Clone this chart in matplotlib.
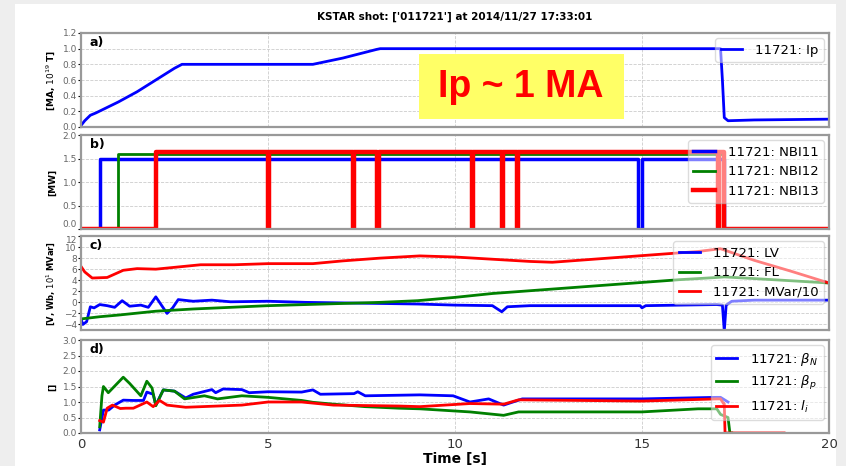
import matplotlib
matplotlib.use('Agg')
import matplotlib.pyplot as plt
from matplotlib.patches import Rectangle

# ---- data ----
shot = '11721'

t_ip = [0.0, 0.1, 0.25, 0.4, 1.0, 1.5, 2.0, 2.5, 2.7, 4.0, 6.2, 7.0, 7.9, 8.0, 12.0, 17.1, 17.15, 17.2, 17.3, 18.0, 20.0]
ip = [0.02, 0.08, 0.15, 0.18, 0.32, 0.45, 0.6, 0.75, 0.8, 0.8, 0.8, 0.88, 0.99, 1.0, 1.0, 1.0, 0.6, 0.12, 0.08, 0.09, 0.1]

t_nbi11 = [0.0, 0.5, 0.5, 14.9, 14.9, 15.0, 15.0, 17.2, 17.2, 20.0]
nbi11 = [0.0, 0.0, 1.5, 1.5, 0.0, 0.0, 1.5, 1.5, 0.0, 0.0]

t_nbi12 = [0.0, 1.0, 1.0, 17.2, 17.2, 20.0]
nbi12 = [0.0, 0.0, 1.6, 1.6, 0.0, 0.0]

t_nbi13 = [0.0, 2.0, 2.0, 5.0, 5.0, 5.02, 5.02, 7.27, 7.27, 7.29, 7.29,
           7.92, 7.92, 7.97, 7.97, 10.45, 10.45, 10.47, 10.47, 11.26, 11.26,
           11.28, 11.28, 11.66, 11.66, 11.68, 11.68, 17.03, 17.03, 17.05,
           17.05, 17.2, 17.2, 20.0]
nbi13 = [0.0, 0.0, 1.63, 1.63, 0.0, 0.0, 1.63, 1.63, 0.0, 0.0, 1.63,
         1.63, 0.0, 0.0, 1.63, 1.63, 0.0, 0.0, 1.63, 1.63, 0.0,
         0.0, 1.63, 1.63, 0.0, 0.0, 1.63, 1.63, 0.0, 0.0,
         1.63, 1.63, 0.0, 0.0]

t_lv = [0.0, 0.05, 0.15, 0.25, 0.35, 0.5, 0.7, 0.9, 1.1, 1.3, 1.6, 1.8, 2.0, 2.1, 2.3, 2.45, 2.6,
        3.0, 3.5, 4.0, 5.0, 6.0, 7.0, 8.0, 9.0, 10.0, 11.0, 11.25, 11.4, 12.0, 13.0, 14.0,
        14.95, 15.0, 15.1, 16.0, 17.0, 17.15, 17.2, 17.25, 17.4, 18.0, 20.0]
lv = [-3.0, -4.0, -3.5, -0.8, -1.0, -0.4, -0.6, -0.9, 0.3, -0.7, -0.5, -0.9, 1.0, 0.0, -2.0, -1.0, 0.5,
      0.2, 0.4, 0.1, 0.2, 0.0, -0.1, -0.2, -0.3, -0.5, -0.6, -1.7, -0.8, -0.6, -0.6, -0.6,
      -0.6, -1.0, -0.6, -0.5, -0.4, -0.5, -5.2, -0.5, 0.2, 0.4, 0.4]

t_fl = [0, 0.5, 1, 2, 3, 4, 5, 6, 7, 8, 9, 10, 11, 12, 13, 14, 15, 16, 17, 17.2, 18, 19, 20]
fl = [-3.0, -2.6, -2.3, -1.6, -1.2, -0.9, -0.6, -0.4, -0.2, 0.0, 0.3, 0.9, 1.6, 2.1, 2.6, 3.1,
      3.6, 4.1, 4.5, 4.6, 4.3, 3.9, 3.5]

t_mvar = [0.0, 0.1, 0.3, 0.7, 1.13, 1.5, 2.0, 3.2, 4.1, 5.0, 6.2, 7.0, 8.0, 9.06, 10.0, 11.0,
          12.0, 12.6, 13.5, 14.5, 15.5, 16.5, 17.1, 18.0, 19.0, 20.0]
mvar = [6.5, 5.5, 4.4, 4.5, 5.8, 6.1, 6.0, 6.8, 6.8, 7.0, 7.0, 7.5, 8.0, 8.4, 8.2, 7.8,
        7.4, 7.25, 7.7, 8.2, 8.7, 9.2, 9.7, 7.6, 5.6, 3.5]

t_bn = [0.5, 0.6, 0.74, 0.9, 1.13, 1.4, 1.67, 1.76, 1.93, 2.0, 2.2, 2.5, 2.8, 3.0, 3.5, 3.6, 3.8,
        4.3, 4.5, 5.0, 5.9, 6.2, 6.4, 7.3, 7.4, 7.6, 9.06, 9.95, 10.4, 10.9, 11.3, 11.8, 15.0,
        17.0, 17.1, 17.3]
bn = [0.1, 0.74, 0.74, 0.9, 1.06, 1.05, 1.05, 1.32, 1.25, 0.9, 1.39, 1.35, 1.13, 1.25, 1.4, 1.3,
      1.42, 1.4, 1.3, 1.33, 1.32, 1.39, 1.25, 1.27, 1.33, 1.2, 1.23, 1.2, 1.0, 1.1, 0.9, 1.1,
      1.1, 1.15, 1.15, 1.0]

t_bp = [0.5, 0.56, 0.6, 0.73, 0.85, 1.13, 1.3, 1.6, 1.76, 1.9, 2.0, 2.2, 2.5, 2.77, 3.3, 3.65,
        4.3, 5.0, 5.9, 6.2, 6.75, 7.6, 8.5, 9.06, 10.4, 11.3, 11.7, 15.0, 16.5, 17.0, 17.1,
        17.3, 17.35, 17.4]
bp = [0.2, 1.2, 1.5, 1.3, 1.45, 1.8, 1.6, 1.2, 1.67, 1.45, 0.88, 1.39, 1.35, 1.1, 1.2, 1.1,
      1.2, 1.15, 1.05, 0.99, 0.93, 0.85, 0.8, 0.78, 0.68, 0.57, 0.68, 0.68, 0.78, 0.78, 0.6,
      0.5, 0.0, 0.0]

t_li = [0.5, 0.6, 0.7, 0.84, 1.05, 1.2, 1.4, 1.67, 1.76, 1.93, 2.1, 2.3, 2.8, 4.3, 5.0, 5.9,
        6.75, 8.5, 9.06, 10.4, 11.3, 11.7, 15.0, 17.0, 17.1, 17.18, 17.2, 17.22, 18.8]
li = [0.4, 0.35, 0.8, 0.9, 0.79, 0.8, 0.8, 0.95, 1.0, 0.85, 1.05, 0.9, 0.83, 0.9, 1.0, 1.0,
      0.9, 0.87, 0.85, 0.95, 0.93, 1.07, 1.03, 1.1, 1.1, 0.95, 0.95, 0.0, 0.0]

# -----------------------------------

fig = plt.figure(figsize=(8.46, 4.66), dpi=100, facecolor='#eeeeee')
fig.patches.append(Rectangle((15 / 846, 0), 821 / 846, 462 / 466, transform=fig.transFigure,
                             facecolor='white', edgecolor='none', zorder=-10))

left = 81 / 846
width = (829 - 81) / 846
tops = [33, 135, 236, 340]
bots = [127, 229, 330, 433]
axs = []
for top, bot in zip(tops, bots):
    ax = fig.add_axes([left, (466 - bot) / 466, width, (bot - top) / 466])
    axs.append(ax)

for ax, lab in zip(axs, ['a)', 'b)', 'c)', 'd)']):
    ax.set_xlim(0, 20)
    ax.set_xticks([0, 5, 10, 15, 20])
    ax.grid(True, color='#cccccc', linestyle='--', linewidth=0.6)
    ax.tick_params(axis='y', labelsize=6.5, labelcolor='#666666', length=2, pad=1)
    ax.tick_params(axis='x', labelsize=9.5, labelcolor='#333333', length=0)
    for sp in ax.spines.values():
        sp.set_color('#999999')
        sp.set_linewidth(1.6)
    ax.text(0.012, 0.97, lab, transform=ax.transAxes, fontsize=9, fontweight='bold',
            va='top', ha='left')
    ax.yaxis.set_label_coords(-0.032, 0.5)
    if ax is not axs[-1]:
        ax.tick_params(axis='x', labelbottom=False)

leg_kw = dict(loc='upper right', fontsize=9.5, framealpha=0.5, edgecolor='#bbbbbb',
              borderaxespad=0.4, handlelength=1.6, handletextpad=1.0)

# a) plasma current
ax = axs[0]
ax.plot(t_ip, ip, color='blue', lw=2, label=shot + ': Ip')
ax.set_ylim(0, 1.2)
ax.set_yticks([0.0, 0.2, 0.4, 0.6, 0.8, 1.0, 1.2])
ax.set_ylabel(r'[MA, $10^{19}$ T]', fontsize=6.5, fontweight='bold')
ax.legend(**leg_kw)

# b) NBI power
ax = axs[1]
ax.plot(t_nbi11, nbi11, color='blue', lw=2.5, label=shot + ': NBI11')
ax.plot(t_nbi12, nbi12, color='green', lw=2, label=shot + ': NBI12')
ax.plot(t_nbi13, nbi13, color='red', lw=3.2, label=shot + ': NBI13')
ax.set_ylim(0, 2.0)
ax.set_yticks([0.0, 0.5, 1.0, 1.5, 2.0])
ax.set_ylabel('[MW]', fontsize=6.5, fontweight='bold')
ax.legend(**leg_kw)

# c) loop voltage, flux, reactive power
ax = axs[2]
ax.plot(t_lv, lv, color='blue', lw=2, label=shot + ': LV')
ax.plot(t_fl, fl, color='green', lw=2, label=shot + ': FL')
ax.plot(t_mvar, mvar, color='red', lw=2, label=shot + ': MVar/10')
ax.set_ylim(-5, 12)
ax.set_yticks([-4, -2, 0, 2, 4, 6, 8, 10, 12])
ax.set_ylabel(r'[V, Wb, $10^{1}$ MVar]', fontsize=6, fontweight='bold')
ax.legend(**leg_kw)

# d) beta and internal inductance
ax = axs[3]
ax.plot(t_bn, bn, color='blue', lw=2, label=shot + r': $\beta_N$')
ax.plot(t_bp, bp, color='green', lw=2, label=shot + r': $\beta_p$')
ax.plot(t_li, li, color='red', lw=2, label=shot + r': $l_i$')
ax.set_ylim(0, 3.0)
ax.set_yticks([0.0, 0.5, 1.0, 1.5, 2.0, 2.5, 3.0])
ax.set_ylabel('[]', fontsize=6.5, fontweight='bold')
ax.set_xlabel('Time [s]', fontsize=10, fontweight='bold', labelpad=1)
ax.legend(**leg_kw)

# keep the touching tick labels between panels b and c apart
axs[1].get_yticklabels()[0].set_va('bottom')
axs[2].get_yticklabels()[-1].set_va('top')

fig.text(455 / 846, 1 - 17 / 466, "KSTAR shot: ['011721'] at 2014/11/27 17:33:01",
         fontsize=7.5, fontweight='bold', ha='center', va='center')

# highlighted annotation box
fig.patches.append(Rectangle((419 / 846, (466 - 119) / 466), 205 / 846, 65 / 466,
                             transform=fig.transFigure, facecolor='#ffff66',
                             edgecolor='none', zorder=5))
fig.text(521 / 846, 1 - 87 / 466, 'Ip ~ 1 MA', fontsize=27, fontweight='bold',
         family='Liberation Sans', color='red', ha='center', va='center', zorder=6)

fig.savefig('out.png', dpi=100)
